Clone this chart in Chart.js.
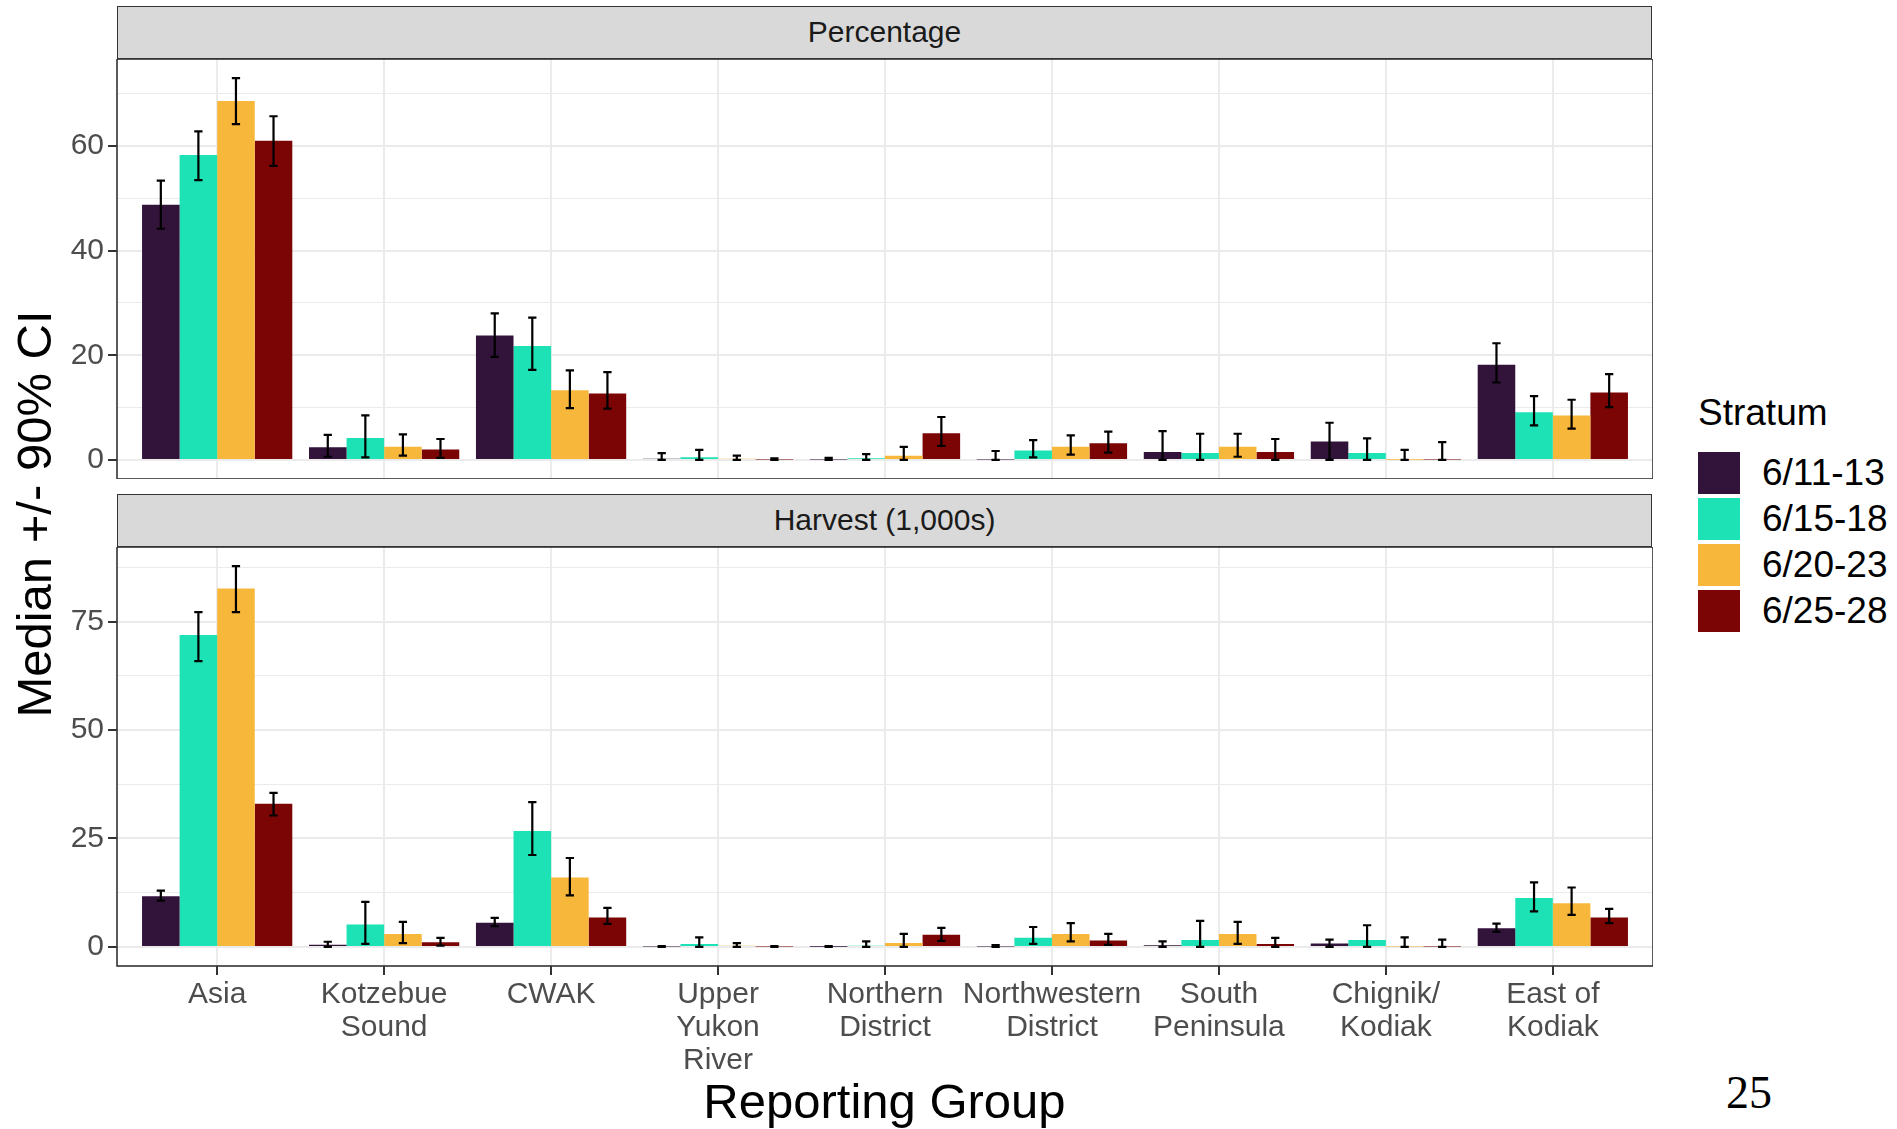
<!DOCTYPE html>
<html lang="en">
<head>
  <meta charset="UTF-8">
  <title>Median +/- 90% CI by reporting group</title>
  <style>
    body {
      margin: 0;
      background: #fff;
      font-family: "Liberation Sans", Arial, sans-serif;
    }

    #page {
      position: relative;
      width: 1897px;
      height: 1129px;
      overflow: hidden;
    }

    /* grey facet strips */
    .strip {
      position: absolute;
      left: 117px;
      width: 1535px;
      height: 53px;
      box-sizing: border-box;
      background: #d9d9d9;
      border: 1.5px solid #333;
      color: #1a1a1a;
      font-size: 30px;
      line-height: 50px;
      text-align: center;
    }

    .panel {
      position: absolute;
      left: 0;
      width: 1653px;
    }

    #ytitle {
      position: absolute;
      left: -266px;
      top: 484px;
      width: 600px;
      height: 60px;
      line-height: 60px;
      font-size: 49px;
      text-align: center;
      transform: rotate(-90deg);
    }

    #xtitle {
      position: absolute;
      left: 117px;
      top: 1071px;
      width: 1535px;
      line-height: 60px;
      font-size: 49px;
      text-align: center;
    }

    #legend {
      position: absolute;
      left: 1698px;
      top: 392px;
    }

    #legend .title {
      font-size: 37px;
      line-height: 42px;
      margin-bottom: 16px;
    }

    #legend .row {
      display: flex;
      align-items: center;
      height: 46px;
    }

    #legend .key {
      width: 42px;
      height: 42px;
      margin-right: 22px;
    }

    #legend .row span {
      font-size: 37px;
    }

    #pageno {
      position: absolute;
      left: 1726px;
      top: 1066px;
      font-family: "Liberation Serif", "Times New Roman", serif;
      font-size: 46px;
    }
  </style>
</head>
<body>

<div id="page">
  <div id="ytitle">Median +/- 90% CI</div>

  <div class="strip" style="top:6px">Percentage</div>
  <div class="panel" style="top:59px; height:420px"><canvas id="pctChart"></canvas></div>

  <div class="strip" style="top:494px">Harvest (1,000s)</div>
  <div class="panel" style="top:547px; height:545px"><canvas id="harvChart"></canvas></div>

  <div id="xtitle">Reporting Group</div>

  <div id="legend">
    <div class="title">Stratum</div>
    <div id="legendRows"></div>
  </div>

  <div id="pageno">25</div>
</div>

<script src="https://cdn.jsdelivr.net/npm/chart.js"></script>
<script>
  // reporting groups (x axis), multi-line labels
  const groups = [
    ['Asia'], ['Kotzebue', 'Sound'], ['CWAK'], ['Upper', 'Yukon', 'River'],
    ['Northern', 'District'], ['Northwestern', 'District'], ['South', 'Peninsula'],
    ['Chignik/', 'Kodiak'], ['East of', 'Kodiak']
  ];

  const strata = ['6/11-13', '6/15-18', '6/20-23', '6/25-28'];
  const colors = ['#32133a', '#1de2b5', '#f7b73a', '#7b0505'];

  // Percentage panel: median, lower and upper 90% CI (one row per stratum)
  const pctMid = [
    [48.8, 2.4, 23.8, 0.2, 0.1, 0.1, 1.5, 3.5, 18.2],
    [58.3, 4.2, 21.8, 0.5, 0.3, 1.8, 1.3, 1.3, 9.1],
    [68.6, 2.5, 13.3, 0.2, 0.8, 2.5, 2.5, 0.05, 8.5],
    [61.0, 2.0, 12.7, 0.1, 5.1, 3.2, 1.5, 0.1, 12.9]
  ];
  const pctLo = [
    [44.2, 0.6, 19.7, 0, 0, 0, 0, 0, 14.8],
    [53.5, 0.5, 17.2, 0, 0, 0.5, 0, 0, 6.6],
    [64.2, 0.8, 9.9, 0, 0, 1.0, 0.6, 0, 6.0],
    [56.2, 0.4, 9.8, 0, 2.7, 1.4, 0, 0, 10.1]
  ];
  const pctHi = [
    [53.4, 4.8, 28.0, 1.3, 0.4, 1.7, 5.5, 7.1, 22.3],
    [62.8, 8.5, 27.2, 1.9, 1.1, 3.8, 5.0, 4.1, 12.2],
    [73.0, 4.9, 17.1, 0.8, 2.5, 4.7, 5.0, 1.9, 11.5],
    [65.7, 4.0, 16.8, 0.3, 8.2, 5.4, 4.0, 3.4, 16.4]
  ];

  // Harvest panel (1,000s)
  const harvMid = [
    [11.7, 0.5, 5.6, 0.1, 0.05, 0.1, 0.4, 0.8, 4.3],
    [71.9, 5.2, 26.7, 0.7, 0.3, 2.1, 1.6, 1.6, 11.3],
    [82.6, 3.0, 16.0, 0.3, 0.9, 3.0, 3.0, 0.1, 10.1],
    [33.0, 1.1, 6.8, 0.1, 2.8, 1.5, 0.7, 0.1, 6.8]
  ];
  const harvLo = [
    [10.7, 0, 4.8, 0, 0, 0, 0, 0, 3.5],
    [65.9, 0.7, 21.2, 0, 0, 0.7, 0, 0, 8.2],
    [77.2, 0.9, 11.9, 0, 0, 1.3, 0.7, 0, 7.4],
    [30.3, 0.3, 5.3, 0, 1.4, 0.5, 0, 0, 5.5]
  ];
  const harvHi = [
    [13.0, 1.2, 6.7, 0.2, 0.2, 0.4, 1.3, 1.7, 5.4],
    [77.2, 10.4, 33.4, 2.2, 1.3, 4.6, 6.0, 5.0, 14.9],
    [87.8, 5.8, 20.5, 0.9, 3.0, 5.5, 5.8, 2.2, 13.7],
    [35.5, 2.1, 9.0, 0.2, 4.4, 3.0, 2.1, 1.7, 8.8]
  ];

  const pctTicks = [0, 20, 40, 60];
  const harvTicks = [0, 25, 50, 75];

  Chart.defaults.font.family = '"Liberation Sans", Arial, sans-serif';

  // error bars drawn on top of the bars
  const errorBars = {
    id: 'errorBars',
    afterDatasetsDraw(chart) {
      const ctx = chart.ctx;
      const y = chart.scales.y;
      ctx.save();
      ctx.strokeStyle = '#000';
      ctx.lineWidth = 2.2;
      chart.data.datasets.forEach((ds, k) => {
        chart.getDatasetMeta(k).data.forEach((bar, i) => {
          const yl = y.getPixelForValue(ds.lo[i]);
          const yh = y.getPixelForValue(ds.hi[i]);
          const w = bar.width * 0.11;
          ctx.beginPath();
          ctx.moveTo(bar.x, yl); ctx.lineTo(bar.x, yh);
          ctx.moveTo(bar.x - w, yl); ctx.lineTo(bar.x + w, yl);
          ctx.moveTo(bar.x - w, yh); ctx.lineTo(bar.x + w, yh);
          ctx.stroke();
        });
      });
      ctx.restore();
    }
  };

  // dark frame round the plot area
  const panelBorder = {
    id: 'panelBorder',
    afterDraw(chart) {
      const a = chart.chartArea;
      const ctx = chart.ctx;
      ctx.save();
      ctx.strokeStyle = '#333';
      ctx.lineWidth = 1.6;
      ctx.strokeRect(a.left, a.top, a.right - a.left, a.bottom - a.top);
      ctx.restore();
    }
  };

  function makePanel(id, mid, lo, hi, major, showX) {
    const top = Math.max(...hi.flat());
    const step = major[1] - major[0];
    const yTicks = major.concat(major.map(v => v + step / 2)).sort((a, b) => a - b);
    const isMajor = v => major.includes(v);

    return new Chart(document.getElementById(id), {
      type: 'bar',
      data: {
        datasets: strata.map((s, k) => ({
          label: s,
          data: groups.map((g, i) => ({ x: i, y: mid[k][i] })),
          lo: lo[k],
          hi: hi[k],
          backgroundColor: colors[k],
          borderWidth: 0,
          categoryPercentage: 0.9,
          barPercentage: 1
        }))
      },
      options: {
        responsive: true,
        maintainAspectRatio: false,
        animation: false,
        layout: { padding: 0 },
        plugins: { legend: { display: false }, tooltip: { enabled: false } },
        scales: {
          x: {
            type: 'linear',
            offset: false,
            min: -0.6,
            max: groups.length - 0.4,
            afterBuildTicks: ax => { ax.ticks = groups.map((g, i) => ({ value: i })); },
            afterFit: ax => {
              ax.height = showX ? 126 : 0;
              ax.paddingLeft = 0; ax.paddingRight = 0;
            },
            border: { display: false },
            grid: {
              offset: false,
              color: '#ebebeb', lineWidth: 2,
              drawTicks: showX, tickLength: 9, tickColor: '#333', tickWidth: 2
            },
            ticks: {
              display: showX, autoSkip: false, maxRotation: 0, padding: 3,
              color: '#4d4d4d', font: { size: 30, lineHeight: 1.1 },
              callback: v => groups[v]
            }
          },
          y: {
            min: -0.05 * top,
            max: 1.05 * top,
            afterBuildTicks: ax => { ax.ticks = yTicks.map(v => ({ value: v })); },
            afterFit: ax => {
              ax.width = 117;
              ax.paddingTop = 0; ax.paddingBottom = 0;
            },
            border: { display: false },
            grid: {
              color: '#ebebeb',
              lineWidth: c => isMajor(c.tick.value) ? 2 : 1,
              tickLength: 9,
              tickWidth: 2,
              tickColor: c => isMajor(c.tick.value) ? '#333' : 'rgba(0,0,0,0)'
            },
            ticks: {
              padding: 4, color: '#4d4d4d', font: { size: 30 },
              callback: v => isMajor(v) ? v : ''
            }
          }
        }
      },
      plugins: [errorBars, panelBorder]
    });
  }

  makePanel('pctChart', pctMid, pctLo, pctHi, pctTicks, false);
  makePanel('harvChart', harvMid, harvLo, harvHi, harvTicks, true);

  // legend
  const rows = document.getElementById('legendRows');
  strata.forEach((s, k) => {
    rows.innerHTML += `<div class="row"><div class="key" style="background:${colors[k]}"></div><span>${s}</span></div>`;
  });
</script>
</body>
</html>
